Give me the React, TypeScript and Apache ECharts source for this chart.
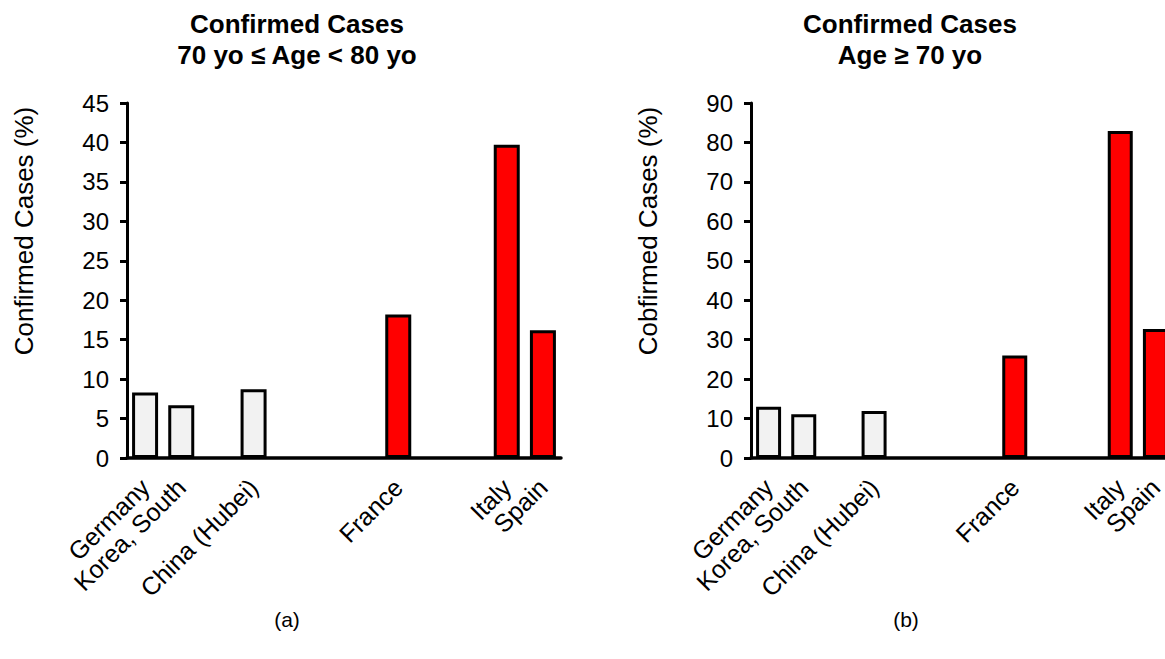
import React, { useEffect, useRef } from "react";
import * as echarts from "echarts";

// ---- Data ----
const categories = [
  "Germany",
  "Korea, South",
  "",
  "China (Hubei)",
  "",
  "",
  "",
  "France",
  "",
  "",
  "Italy",
  "Spain",
];
const age70to80Values = [8.3, 6.7, null, 8.7, null, null, null, 18.2, null, null, 39.7, 16.2];
const age70plusValues = [13.0, 11.1, null, 11.9, null, null, null, 26.0, null, null, 82.9, 32.7];
const highlightedCountries = ["France", "Italy", "Spain"];

const leftTitle = "Confirmed Cases\n70 yo \u2264 Age < 80 yo";
const rightTitle = "Confirmed Cases\nAge \u2265 70 yo";
const leftYName = "Confirmed Cases (%)";
const rightYName = "Cobfirmed Cases (%)";
const leftAxis = { min: 0, max: 45, interval: 5 };
const rightAxis = { min: 0, max: 90, interval: 10 };

const FONT = '"Liberation Sans", Arial, Helvetica, sans-serif';

export default function App() {
  const ref = useRef<HTMLDivElement>(null);

  useEffect(() => {
    if (!ref.current) return;
    const chart = echarts.init(ref.current, undefined, { renderer: "svg" });

    const barColor = (p: any) =>
      highlightedCountries.includes(categories[p.dataIndex]) ? "#FF0000" : "#F2F2F2";

    const xAxisBase = (gridIndex: number) => ({
      type: "category",
      gridIndex,
      data: categories,
      boundaryGap: true,
      axisLine: { show: true, lineStyle: { color: "#000", width: 3.5 } },
      axisTick: { show: false },
      axisLabel: {
        interval: 0,
        rotate: 45,
        margin: 25,
        color: "#000",
        fontSize: 25,
        fontFamily: FONT,
      },
      splitLine: { show: false },
    });

    const yAxisBase = (gridIndex: number, ax: any) => ({
      type: "value",
      gridIndex,
      min: ax.min,
      max: ax.max,
      interval: ax.interval,
      axisLine: { show: true, lineStyle: { color: "#000", width: 3 } },
      axisTick: { show: true, length: 7, lineStyle: { color: "#000", width: 3 } },
      axisLabel: { color: "#000", fontSize: 24, fontFamily: FONT, margin: 18 },
      splitLine: { show: false },
    });

    const titleStyle = {
      fontSize: 26,
      fontWeight: "bold",
      fontFamily: FONT,
      color: "#000",
      lineHeight: 31,
    };
    const captionStyle = { fontSize: 21, fontWeight: "normal", fontFamily: FONT, color: "#000" };

    const yName = (text: string, x: number) => ({
      type: "text",
      x,
      y: 231,
      rotation: Math.PI / 2,
      style: {
        text,
        fill: "#000",
        fontSize: 26,
        fontFamily: FONT,
        align: "center",
        verticalAlign: "middle",
        textAlign: "center",
        textVerticalAlign: "middle",
      },
    });

    const option: any = {
      animation: false,
      backgroundColor: "#fff",
      title: [
        { text: leftTitle, left: 297, top: 8, padding: 0, textAlign: "center", textStyle: titleStyle },
        { text: rightTitle, left: 910, top: 8, padding: 0, textAlign: "center", textStyle: titleStyle },
        { text: "(a)", left: 287, top: 609, padding: 0, textAlign: "center", textStyle: captionStyle },
        { text: "(b)", left: 906, top: 609, padding: 0, textAlign: "center", textStyle: captionStyle },
      ],
      graphic: [yName(leftYName, 24), yName(rightYName, 648)],
      grid: [
        { left: 127, top: 103, width: 434, height: 355, containLabel: false, outerBoundsMode: "none" },
        { left: 751, top: 103, width: 422, height: 355, containLabel: false, outerBoundsMode: "none" },
      ],
      xAxis: [xAxisBase(0), xAxisBase(1)],
      yAxis: [yAxisBase(0, leftAxis), yAxisBase(1, rightAxis)],
      series: [
        {
          type: "bar",
          xAxisIndex: 0,
          yAxisIndex: 0,
          data: age70to80Values,
          barWidth: 26,
          itemStyle: { color: barColor, borderColor: "#000", borderWidth: 3 },
        },
        {
          type: "bar",
          xAxisIndex: 1,
          yAxisIndex: 1,
          data: age70plusValues,
          barWidth: 25,
          itemStyle: { color: barColor, borderColor: "#000", borderWidth: 3 },
        },
      ],
    };

    chart.setOption(option);
    return () => chart.dispose();
  }, []);

  return (
    <div
      style={{
        position: "fixed",
        left: 0,
        top: 0,
        width: 1165,
        height: 659,
        overflow: "hidden",
        background: "#fff",
      }}
    >
      <div ref={ref} style={{ width: 1200, height: 659 }} />
    </div>
  );
}
